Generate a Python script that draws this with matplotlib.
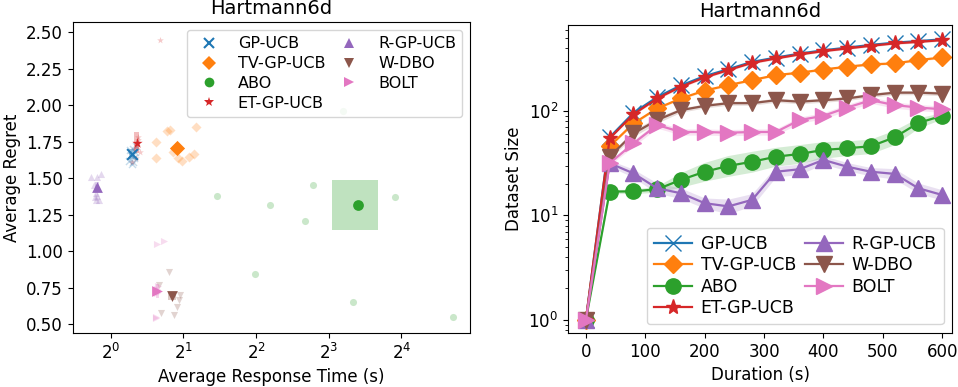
import numpy as np
import matplotlib
matplotlib.use('Agg')
from matplotlib import pyplot as plt
from matplotlib.patches import Rectangle
from matplotlib.lines import Line2D

plt.rcParams['font.size'] = 12

methods = ['GP-UCB', 'TV-GP-UCB', 'ABO', 'ET-GP-UCB', 'R-GP-UCB', 'W-DBO', 'BOLT']
colors  = ['tab:blue', 'tab:orange', 'tab:green', 'tab:red', 'tab:purple', 'tab:brown', 'tab:pink']
markers = ['x', 'D', 'o', '*', '^', 'v', '>']

# left panel: per-run (response time, regret)
run_time = {
    'GP-UCB':    [1.19, 1.21, 1.23, 1.25, 1.22, 1.26, 1.20, 1.24, 1.27, 1.22],
    'TV-GP-UCB': [1.538, 1.533, 1.713, 1.758, 1.815, 1.904, 1.966, 2.102, 2.218, 2.254],
    'ABO':       [2.75, 6.88, 4.57, 6.37, 15.06, 3.94, 10.05, 9.13, 26.2],
    'ET-GP-UCB': [1.597, 1.258, 1.32, 1.219, 1.28, 1.30, 1.27, 1.29],
    'R-GP-UCB':  [0.831, 0.872, 0.909, 0.858, 0.894, 0.87, 0.85, 0.88, 0.865],
    'W-DBO':     [1.741, 1.587, 1.934, 1.921, 1.885, 1.826, 1.613, 1.78, 1.80],
    'BOLT':      [1.548, 1.665, 1.538, 1.55, 1.56, 1.545, 1.57],
}
run_regret = {
    'GP-UCB':    [1.62, 1.66, 1.70, 1.64, 1.60, 1.68, 1.69, 1.61, 1.72, 1.65],
    'TV-GP-UCB': [1.747, 1.635, 1.82, 1.833, 1.676, 1.638, 1.615, 1.642, 1.665, 1.852],
    'ABO':       [1.38, 1.451, 1.317, 1.208, 1.372, 0.846, 0.65, 1.961, 0.546],
    'ET-GP-UCB': [2.45, 1.70, 1.68, 1.608, 1.72, 1.76, 1.64, 1.78],
    'R-GP-UCB':  [1.51, 1.51, 1.528, 1.369, 1.351, 1.40, 1.45, 1.38, 1.347],
    'W-DBO':     [0.857, 0.771, 0.70, 0.668, 0.614, 0.561, 0.577, 0.70, 0.68],
    'BOLT':      [1.051, 1.069, 0.539, 0.74, 0.71, 0.55, 0.76],
}
mean_time   = [1.219, 1.874, 10.54, 1.278, 0.877, 1.797, 1.557]
mean_regret = [1.665, 1.71, 1.317, 1.744, 1.437, 0.693, 0.727]
std_time    = [0.03, 0.03, 2.31, 0.03, 0.018, 0.066, 0.025]
std_regret  = [0.035, 0.03, 0.17, 0.072, 0.035, 0.03, 0.045]

# right panel: dataset size over time
duration = [0, 40, 80, 120, 160, 200, 240, 280, 320, 360, 400, 440, 480, 520, 560, 600]
size = {
    'GP-UCB':    [1, 56, 96, 136, 176, 216, 252, 296, 325, 355, 382, 405, 430, 452, 468, 486],
    'TV-GP-UCB': [1, 46, 76, 106, 132, 157, 177, 198, 221, 233, 250, 266, 280, 286, 308, 326],
    'ABO':       [1, 16.9, 17, 17.8, 21.9, 26.2, 29.8, 32.7, 36.5, 38.8, 42.4, 44, 46, 56, 77, 90],
    'ET-GP-UCB': [1, 54.8, 93, 132, 171, 210, 247, 290, 319, 349, 375, 398, 422, 445, 460, 478],
    'R-GP-UCB':  [1, 31.6, 25.3, 18.2, 16.3, 13.1, 12.2, 14.1, 26.2, 27.7, 34, 29.3, 26.2, 25, 18.2, 15.7],
    'W-DBO':     [1, 36.5, 61, 82, 102, 112, 119, 119, 127, 123, 127, 132, 142, 150, 150, 147],
    'BOLT':      [1, 31.6, 49, 73.5, 63, 63, 62, 63, 63, 82, 90, 108, 127, 114, 108, 104],
}
# spread of the shaded band (log10 units)
spread = {
    'GP-UCB':    [0, .01, .01, .01, .01, .01, .01, .01, .01, .01, .01, .01, .01, .01, .01, .01],
    'TV-GP-UCB': [0, .01, .01, .01, .01, .01, .01, .01, .01, .01, .01, .01, .01, .01, .01, .01],
    'ABO':       [0, .02, .02, .03, .07, .09, .1, .1, .09, .09, .08, .07, .07, .07, .05, .03],
    'ET-GP-UCB': [0, .01, .01, .01, .01, .01, .01, .01, .01, .01, .01, .01, .01, .01, .01, .01],
    'R-GP-UCB':  [0, .03, .04, .05, .05, .05, .07, .06, .05, .05, .04, .04, .04, .05, .05, .05],
    'W-DBO':     [0, .02, .03, .03, .02, .02, .02, .02, .02, .02, .02, .02, .02, .02, .02, .02],
    'BOLT':      [0, .02, .03, .03, .03, .03, .03, .03, .03, .03, .03, .03, .03, .03, .03, .03],
}


def main():
    fig = plt.figure(figsize=(9.58, 3.87), dpi=100)
    ax1 = fig.add_axes([0.076, 0.140, 0.415, 0.803])
    ax2 = fig.add_axes([0.593, 0.140, 0.401, 0.795])

    # ---- left: regret vs response time
    handles = []
    for i, m in enumerate(methods):
        c = colors[i]
        ax1.scatter(run_time[m], run_regret[m], s=26, marker=markers[i],
                    color=c, alpha=0.25, linewidths=1 if markers[i] == 'x' else 0)
        ax1.add_patch(Rectangle((mean_time[i] - std_time[i], mean_regret[i] - std_regret[i]),
                                2 * std_time[i], 2 * std_regret[i],
                                facecolor=c, alpha=0.3, edgecolor='none'))
        ax1.scatter([mean_time[i]], [mean_regret[i]], s=60, marker=markers[i],
                    color=c, linewidths=1.5 if markers[i] == 'x' else 0, zorder=3)
        handles.append(Line2D([], [], ls='none', marker=markers[i], color=c,
                              markersize=7, markeredgewidth=1.5 if markers[i] == 'x' else 0))
    ax1.set_xscale('log', base=2)
    ax1.set_xlim(2 ** -0.524, 2 ** 4.95)
    ax1.set_ylim(0.44, 2.57)
    ax1.set_yticks(np.arange(0.5, 2.51, 0.25))
    ax1.set_xlabel('Average Response Time (s)')
    ax1.set_ylabel('Average Regret')
    ax1.set_title('Hartmann6d', fontsize=14)
    ax1.legend(handles, methods, ncol=2, loc='upper right', fontsize=11.5,
               borderaxespad=0.5, handletextpad=0.8, columnspacing=0.5,
               labelspacing=0.3)

    # ---- right: dataset size over time
    t = np.array(duration)
    for i, m in enumerate(methods):
        c = colors[i]
        y = np.array(size[m], dtype=float)
        sp = 10 ** np.array(spread[m])
        ax2.fill_between(t, y / sp, y * sp, color=c, alpha=0.2, linewidth=0)
        ax2.plot(t, y, color=c, marker=markers[i], markersize=11 if markers[i] != 'D' else 9,
                 lw=1.6, label=m)
    ax2.set_yscale('log')
    ax2.set_xlim(-30, 617)
    ax2.set_ylim(0.75, 665)
    ax2.set_xticks(range(0, 601, 100))
    ax2.set_xlabel('Duration (s)')
    ax2.set_ylabel('Dataset Size')
    ax2.set_title('Hartmann6d', fontsize=14)
    ax2.legend(ncol=2, loc='lower right', fontsize=12.5, handlelength=2.2,
               labelspacing=0.2, columnspacing=0.5, handletextpad=0.5)

    fig.savefig('out.png', dpi=100)
    plt.close(fig)


if __name__ == '__main__': main()
